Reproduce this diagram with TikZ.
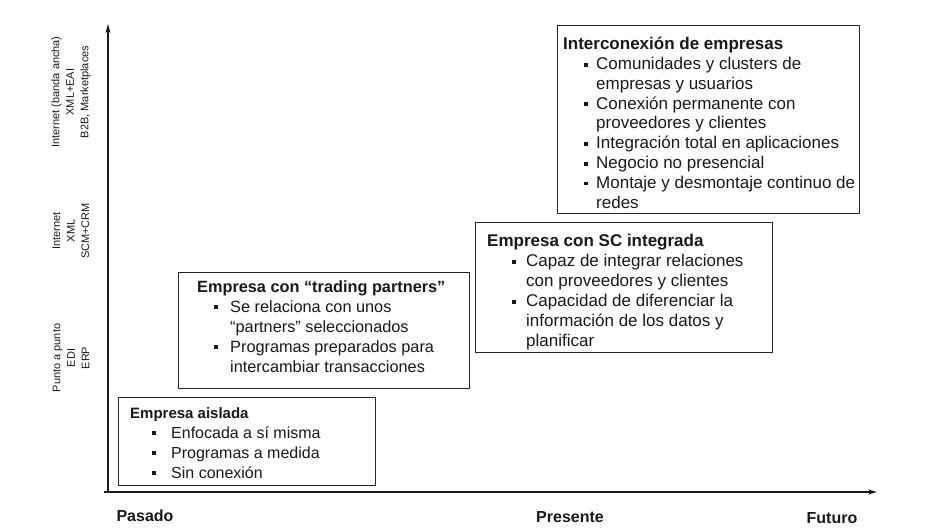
\documentclass[tikz,border=0pt]{standalone}
\usepackage{fontspec}
\setmainfont{Liberation Sans}
\usetikzlibrary{arrows.meta}
% bullet item: #1 = indent of the bullet, #2 = gap from bullet to text
\newcommand\bi[2]{\hspace*{#1pt}\makebox[#2pt][l]{\raisebox{2.8pt}{\rule{3.8pt}{3.8pt}}}}
\newcommand\bc[1]{\hspace*{#1pt}}
\begin{document}
\begin{tikzpicture}[x=1pt,y=-1pt,
  frame/.style={draw=black!85, line width=1.1pt, inner sep=0pt, anchor=north west},
  body/.style={anchor=north west, inner sep=0pt, align=left, text=black!90},
  axlab/.style={rotate=90, align=center, inner sep=0pt, font=\fontsize{11}{14.5}\selectfont, text=black!90},
  tick/.style={font=\bfseries\fontsize{16}{18}\selectfont, inner sep=0pt, text=black!90},
  axis/.style={draw=black!90, line width=1.5pt, -{Stealth[length=9pt,width=5pt]}}]
\useasboundingbox (0,0) rectangle (929,529);

% axes
\coordinate (o) at (108,492);
\coordinate (ol) at (104,492);
\coordinate (ytop) at (108,24);
\coordinate (xend) at (877,492);
\draw[axis] (o) -- (ytop);
\draw[axis] (ol) -- (xend);

% axis labels
\node[axlab] (l3) at (71,92) {Internet (banda ancha)\\XML+EAI\\B2B, Marketplaces};
\node[axlab] (l2) at (71,231) {Internet\\XML\\SCM+CRM};
\node[axlab] (l1) at (71,358) {Punto a punto\\EDI\\ERP};

\node[tick] (pasado) at (145,516) {Pasado};
\node[tick] (presente) at (570,517) {Presente};
\node[tick] (futuro) at (832,518) {Futuro};

% boxes
\node[frame, minimum width=257pt, minimum height=88pt] (b1) at (118,397) {};
\node[frame, minimum width=291pt, minimum height=116pt] (b2) at (178,272) {};
\node[frame, minimum width=297pt, minimum height=130pt] (b3) at (475,222) {};
\node[frame, minimum width=302pt, minimum height=188pt] (b4) at (557,25) {};

\node[body, font=\fontsize{16}{20}\selectfont] (t1) at (130,407) {{\bfseries\fontsize{15}{20}\selectfont Empresa aislada}\\
\bi{22}{19}Enfocada a sí misma\\
\bi{22}{19}Programas a medida\\
\bi{22}{19}Sin conexión};

\node[body, font=\fontsize{16.3}{20}\selectfont] (t2) at (197,280) {\textbf{Empresa con “trading partners”}\\
\bi{17}{16}Se relaciona con unos\\
\bc{33}“partners” seleccionados\\
\bi{17}{16}Programas preparados para\\
\bc{33}intercambiar transacciones};

\node[body, font=\fontsize{17}{20}\selectfont] (t3) at (487,234) {\textbf{Empresa con SC integrada}\\
\bi{25}{14}Capaz de integrar relaciones\\
\bc{39}con proveedores y clientes\\
\bi{25}{14}Capacidad de diferenciar la\\
\bc{39}información de los datos y\\
\bc{39}planificar};

\node[body, font=\fontsize{17}{19.8}\selectfont] (t4) at (563,37) {\textbf{Interconexión de empresas}\\
\bi{21}{12}Comunidades y clusters de\\
\bc{33}empresas y usuarios\\
\bi{21}{12}Conexión permanente con\\
\bc{33}proveedores y clientes\\
\bi{21}{12}Integración total en aplicaciones\\
\bi{21}{12}Negocio no presencial\\
\bi{21}{12}Montaje y desmontaje continuo de\\
\bc{33}redes};
\end{tikzpicture}
\end{document}
